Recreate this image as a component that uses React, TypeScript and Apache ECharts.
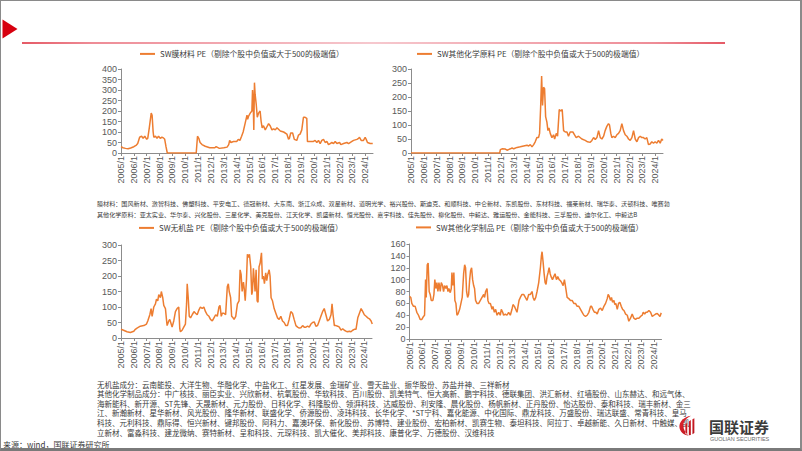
import React, { useEffect, useRef } from 'react';
import * as echarts from 'echarts';

// ---------- data ----------
const tickYears = [2005, 2006, 2007, 2008, 2009, 2010, 2011, 2012, 2013, 2014, 2015, 2016, 2017, 2018, 2019, 2020, 2021, 2022, 2023, 2024];

const seriesNames = [
  'SW膜材料 PE（剔除个股中负值或大于500的极端值）',
  'SW其他化学原料 PE（剔除个股中负值或大于500的极端值）',
  'SW无机盐 PE（剔除个股中负值或大于500的极端值）',
  'SW其他化学制品 PE（剔除个股中负值或大于500的极端值）',
];

const filmPE = [
  [2005.0, 30], [2005.15, 25], [2005.35, 22], [2005.55, 20], [2005.75, 24], [2006.0, 30], [2006.2, 38], [2006.3, 45],
  [2006.45, 75], [2006.6, 80], [2006.72, 70], [2006.85, 80], [2007.0, 65], [2007.08, 70], [2007.2, 120], [2007.35, 190],
  [2007.42, 180], [2007.5, 100], [2007.55, 75], [2007.68, 80], [2007.8, 70], [2007.92, 80], [2008.05, 70], [2008.18, 75],
  [2008.3, 72], [2008.4, 65], [2008.5, 30], [2008.6, 0], [2010.85, 0], [2010.95, 80], [2011.05, 70], [2011.15, 50],
  [2011.3, 40], [2011.55, 32], [2011.9, 25], [2012.3, 25], [2012.4, 30], [2012.65, 22], [2013.0, 25], [2013.25, 28],
  [2013.38, 40], [2013.45, 60], [2013.55, 50], [2013.75, 55], [2014.0, 55], [2014.12, 65], [2014.25, 60], [2014.38, 80],
  [2014.5, 100], [2014.65, 140], [2014.8, 180], [2014.85, 160], [2014.92, 175], [2015.05, 190], [2015.18, 200], [2015.23, 300],
  [2015.28, 250], [2015.33, 110], [2015.38, 335], [2015.43, 280], [2015.52, 230], [2015.6, 170], [2015.7, 190], [2015.82, 200],
  [2015.9, 150], [2015.98, 120], [2016.08, 130], [2016.22, 110], [2016.35, 125], [2016.48, 140], [2016.6, 130], [2016.74, 110],
  [2016.87, 115], [2017.0, 110], [2017.13, 120], [2017.39, 105], [2017.65, 100], [2017.9, 90], [2018.03, 65], [2018.1, 70],
  [2018.2, 95], [2018.35, 95], [2018.48, 65], [2018.67, 60], [2018.8, 85], [2018.93, 90], [2019.06, 110], [2019.19, 170],
  [2019.32, 170], [2019.45, 165], [2019.5, 55], [2019.71, 55], [2019.97, 55], [2020.1, 60], [2020.23, 50], [2020.36, 60],
  [2020.49, 45], [2020.62, 60], [2020.75, 65], [2020.88, 50], [2021.01, 55], [2021.14, 40], [2021.27, 45], [2021.4, 50],
  [2021.53, 45], [2021.66, 55], [2021.79, 45], [2022.0, 50], [2022.1, 40], [2022.31, 45], [2022.57, 50], [2022.7, 45],
  [2022.96, 55], [2023.09, 60], [2023.35, 65], [2023.48, 70], [2023.55, 75], [2023.68, 60], [2023.86, 60], [2023.99, 75],
  [2024.07, 65], [2024.17, 50], [2024.38, 45], [2024.58, 45],
];

const otherRawPE = [
  [2005.0, 0], [2011.9, 0], [2011.95, 12], [2012.08, 15], [2012.34, 14], [2012.47, 10], [2012.73, 15], [2012.86, 18],
  [2012.99, 15], [2013.25, 20], [2013.5, 22], [2013.76, 25], [2014.02, 28], [2014.15, 25], [2014.28, 30], [2014.41, 22],
  [2014.54, 30], [2014.66, 40], [2014.79, 55], [2014.92, 55], [2015.0, 70], [2015.08, 160], [2015.16, 275], [2015.23, 170],
  [2015.31, 235], [2015.39, 230], [2015.47, 130], [2015.57, 110], [2015.65, 80], [2015.73, 90], [2015.83, 70], [2015.96, 55],
  [2016.09, 65], [2016.17, 50], [2016.3, 70], [2016.4, 60], [2016.53, 155], [2016.66, 150], [2016.76, 155], [2016.87, 80],
  [2017.0, 75], [2017.13, 75], [2017.25, 60], [2017.38, 75], [2017.59, 75], [2017.72, 65], [2017.85, 55], [2018.03, 60],
  [2018.29, 50], [2018.55, 45], [2018.73, 40], [2018.94, 38], [2019.07, 45], [2019.2, 55], [2019.33, 48], [2019.46, 55],
  [2019.59, 80], [2019.72, 55], [2019.85, 50], [2019.98, 60], [2020.1, 80], [2020.23, 95], [2020.36, 105], [2020.44, 100],
  [2020.54, 70], [2020.62, 55], [2020.75, 60], [2020.88, 55], [2021.01, 65], [2021.14, 70], [2021.27, 80], [2021.4, 105],
  [2021.53, 80], [2021.66, 65], [2021.79, 60], [2021.92, 50], [2022.05, 45], [2022.18, 55], [2022.31, 80], [2022.44, 50],
  [2022.57, 40], [2022.7, 55], [2022.83, 60], [2022.95, 55], [2023.08, 55], [2023.21, 50], [2023.34, 55], [2023.47, 30],
  [2023.6, 32], [2023.73, 40], [2023.86, 35], [2023.99, 40], [2024.12, 35], [2024.25, 45], [2024.38, 35], [2024.5, 50],
  [2024.6, 45],
];

const inorganicPE = [
  [2005.0, 28], [2005.2, 25], [2005.47, 20], [2005.73, 18], [2006.0, 22], [2006.12, 28], [2006.25, 32], [2006.38, 35],
  [2006.51, 38], [2006.78, 40], [2006.99, 45], [2007.09, 55], [2007.25, 75], [2007.35, 95], [2007.43, 70], [2007.56, 100],
  [2007.69, 110], [2007.77, 125], [2007.87, 120], [2007.95, 140], [2008.08, 130], [2008.15, 150], [2008.26, 130], [2008.34, 105],
  [2008.47, 95], [2008.55, 60], [2008.6, 40], [2008.73, 55], [2008.81, 60], [2008.92, 45], [2008.99, 35], [2009.12, 55],
  [2009.25, 85], [2009.38, 95], [2009.51, 100], [2009.59, 30], [2009.64, 20], [2009.77, 25], [2009.9, 35], [2010.03, 45],
  [2010.12, 110], [2010.17, 175], [2010.25, 130], [2010.33, 70], [2010.43, 65], [2010.56, 75], [2010.7, 85], [2010.82, 80],
  [2010.95, 75], [2011.08, 90], [2011.2, 100], [2011.34, 95], [2011.47, 100], [2011.6, 85], [2011.73, 75], [2011.87, 70],
  [2011.99, 60], [2012.13, 55], [2012.26, 65], [2012.39, 75], [2012.52, 70], [2012.65, 100], [2012.73, 105], [2012.83, 70],
  [2012.91, 80], [2013.04, 80], [2013.17, 75], [2013.3, 165], [2013.38, 175], [2013.45, 150], [2013.56, 130], [2013.64, 70],
  [2013.75, 65], [2013.83, 60], [2013.96, 70], [2014.09, 110], [2014.22, 120], [2014.3, 220], [2014.38, 205], [2014.46, 150],
  [2014.56, 180], [2014.62, 160], [2014.7, 120], [2014.8, 190], [2014.87, 270], [2014.95, 260], [2015.03, 270], [2015.13, 230],
  [2015.21, 140], [2015.26, 150], [2015.34, 225], [2015.42, 180], [2015.47, 150], [2015.55, 220], [2015.63, 120], [2015.7, 115],
  [2015.78, 230], [2015.86, 240], [2015.97, 275], [2016.04, 190], [2016.12, 200], [2016.2, 175], [2016.3, 210], [2016.38, 185],
  [2016.46, 205], [2016.57, 220], [2016.64, 200], [2016.72, 130], [2016.83, 120], [2016.96, 95], [2017.09, 80], [2017.22, 65],
  [2017.35, 60], [2017.48, 70], [2017.61, 55], [2017.74, 50], [2017.87, 40], [2018.0, 40], [2018.13, 60], [2018.26, 85],
  [2018.39, 80], [2018.52, 60], [2018.66, 40], [2018.79, 35], [2018.92, 32], [2019.05, 33], [2019.18, 40], [2019.31, 35],
  [2019.44, 35], [2019.57, 38], [2019.7, 35], [2019.83, 45], [2019.96, 50], [2020.09, 52], [2020.22, 38], [2020.35, 40],
  [2020.48, 55], [2020.61, 70], [2020.74, 85], [2020.87, 95], [2021.0, 75], [2021.13, 55], [2021.27, 60], [2021.4, 75],
  [2021.48, 110], [2021.56, 75], [2021.66, 40], [2021.79, 40], [2021.92, 38], [2022.05, 35], [2022.18, 25], [2022.31, 30],
  [2022.44, 25], [2022.57, 22], [2022.7, 20], [2022.83, 22], [2022.96, 20], [2023.09, 25], [2023.22, 28], [2023.35, 28],
  [2023.49, 65], [2023.62, 80], [2023.75, 95], [2023.88, 85], [2024.0, 75], [2024.14, 70], [2024.27, 65], [2024.4, 62],
  [2024.53, 55], [2024.62, 45],
];

const otherProductsPE = [
  [2005.0, 72], [2005.1, 70], [2005.18, 60], [2005.31, 55], [2005.44, 55], [2005.57, 45], [2005.7, 40], [2005.83, 33],
  [2005.96, 33], [2006.09, 38], [2006.17, 40], [2006.25, 100], [2006.3, 70], [2006.38, 125], [2006.45, 128], [2006.53, 80],
  [2006.61, 75], [2006.69, 65], [2006.82, 65], [2006.9, 75], [2006.97, 100], [2007.05, 85], [2007.13, 95], [2007.21, 80],
  [2007.29, 95], [2007.39, 80], [2007.47, 95], [2007.57, 90], [2007.65, 80], [2007.73, 90], [2007.83, 85], [2007.91, 90],
  [2007.99, 80], [2008.06, 85], [2008.17, 78], [2008.25, 85], [2008.3, 112], [2008.38, 90], [2008.45, 112], [2008.53, 65],
  [2008.61, 60], [2008.69, 40], [2008.77, 42], [2008.9, 50], [2009.0, 60], [2009.1, 70], [2009.21, 110], [2009.29, 125],
  [2009.36, 120], [2009.44, 80], [2009.52, 70], [2009.6, 75], [2009.68, 100], [2009.75, 115], [2009.83, 120], [2009.91, 100],
  [2009.99, 90], [2010.06, 85], [2010.14, 65], [2010.25, 60], [2010.38, 60], [2010.51, 65], [2010.64, 70], [2010.77, 75],
  [2010.84, 70], [2010.92, 80], [2011.03, 85], [2011.1, 65], [2011.18, 60], [2011.29, 60], [2011.42, 50], [2011.49, 55],
  [2011.6, 45], [2011.7, 50], [2011.81, 40], [2011.94, 45], [2012.06, 40], [2012.14, 50], [2012.25, 45], [2012.32, 40],
  [2012.45, 42], [2012.58, 40], [2012.71, 45], [2012.84, 40], [2012.97, 50], [2013.05, 58], [2013.16, 55], [2013.26, 50],
  [2013.36, 45], [2013.44, 55], [2013.52, 65], [2013.62, 70], [2013.75, 75], [2013.88, 75], [2014.01, 70], [2014.14, 65],
  [2014.27, 75], [2014.4, 75], [2014.53, 80], [2014.61, 70], [2014.71, 65], [2014.82, 70], [2014.92, 80], [2015.05, 95],
  [2015.18, 120], [2015.26, 140], [2015.31, 147], [2015.39, 130], [2015.47, 110], [2015.55, 95], [2015.62, 92], [2015.7, 105],
  [2015.78, 112], [2015.86, 120], [2015.94, 110], [2016.01, 105], [2016.12, 100], [2016.22, 105], [2016.32, 110], [2016.43, 100],
  [2016.53, 105], [2016.64, 100], [2016.74, 98], [2016.84, 95], [2016.95, 90], [2017.05, 100], [2017.16, 85], [2017.26, 70],
  [2017.39, 68], [2017.52, 65], [2017.65, 65], [2017.78, 60], [2017.91, 60], [2018.04, 55], [2018.17, 55], [2018.3, 50],
  [2018.43, 45], [2018.56, 40], [2018.69, 38], [2018.82, 40], [2018.95, 45], [2019.08, 55], [2019.16, 55], [2019.26, 50],
  [2019.39, 45], [2019.49, 45], [2019.6, 42], [2019.73, 50], [2019.86, 52], [2019.99, 48], [2020.12, 55], [2020.25, 60],
  [2020.38, 68], [2020.45, 75], [2020.53, 72], [2020.64, 65], [2020.71, 70], [2020.79, 62], [2020.9, 65], [2020.97, 58],
  [2021.05, 60], [2021.16, 50], [2021.26, 60], [2021.36, 62], [2021.47, 55], [2021.57, 50], [2021.68, 48], [2021.81, 42],
  [2021.94, 40], [2022.06, 30], [2022.19, 35], [2022.32, 42], [2022.45, 35], [2022.58, 33], [2022.71, 35], [2022.84, 35],
  [2022.97, 38], [2023.1, 40], [2023.18, 45], [2023.29, 42], [2023.39, 45], [2023.49, 45], [2023.62, 48], [2023.75, 45],
  [2023.88, 38], [2024.01, 40], [2024.14, 42], [2024.27, 43], [2024.4, 40], [2024.48, 38], [2024.58, 44],
];

const yMax = [400, 300, 300, 160];
const yInterval = [50, 50, 50, 20];

const upperNotes = [
  '膜材料：国风新材、激智科技、佛塑科技、平安电工、德冠新材、大东南、浙江众成、双星新材、道明光学、裕兴股份、斯迪克、和顺科技、中仑新材、东凯股份、东材科技、福莱新材、瑞华泰、沃顿科技、唯赛勃',
  '其他化学原料：亚太实业、华尔泰、兴化股份、三星化学、美克股份、江天化学、凯盛新材、恒光股份、嘉宇科技、佳先股份、柳化股份、中毅达、雅运股份、金能科技、三孚股份、迪尔化工、中毅达B',
];

const lowerNotes = [
  '无机盐成分：云南能投、大洋生物、华融化学、中盐化工、红星发展、金瑞矿业、雪天盐业、振华股份、苏盐井神、三祥新材',
  '其他化学制品成分：中广核技、丽臣实业、兴欣新材、杭氧股份、华软科技、百川股份、凯美特气、恒大高新、鹏宇科技、德联集团、洪汇新材、红墙股份、山东赫达、和远气体、',
  '海新能科、新开源、ST先锋、天晟新材、元力股份、日科化学、科隆股份、领湃科技、达威股份、利安隆、晨化股份、杨帆新材、正丹股份、怡达股份、泰和科技、瑞丰新材、金三',
  '江、新瀚新材、星华新材、风光股份、隆华新材、联盛化学、侨源股份、凌玮科技、长华化学、*ST宁科、嘉化能源、中化国际、鼎龙科技、万盛股份、瑞达联盛、常青科技、皇马',
  '科技、元利科技、鼎际得、恒兴新材、键邦股份、阿科力、嘉澳环保、新化股份、苏博特、建业股份、宏柏新材、凯赛生物、泰坦科技、阿拉丁、卓越新能、久日新材、中触媒、凯',
  '立新材、富淼科技、建龙微纳、赛特新材、呈和科技、元琛科技、凯大催化、美邦科技、康普化学、万德股份、汉维科技',
];

const sourceNote = '来源：wind，国联证券研究所';

// ---------- layout ----------
const grids = [
  { left: 121, top: 69, width: 252, height: 84 },
  { left: 411, top: 69, width: 252, height: 84 },
  { left: 121, top: 245, width: 251, height: 93 },
  { left: 409.5, top: 244, width: 252, height: 95 },
];
const legendPos = [
  { left: 140, top: 50 },
  { left: 417, top: 50 },
  { left: 139, top: 224 },
  { left: 416, top: 223.5 },
];

const LINE_COLOR = '#ED7D31';
const AXIS_COLOR = '#8C8C8C';
const LABEL_COLOR = '#595959';
const NUM_FONT = '"Liberation Sans", Arial, "Noto Sans CJK SC", sans-serif';
const CJK_FONT = '"Noto Sans CJK SC", "Liberation Sans", sans-serif';

echarts.graphic.registerShape(
  'glLogo',
  echarts.graphic.extendPath(
    'M15 1 C6 2 0 9 0.5 15 C1 21 6 25.5 12 25.5 C8 22.5 5.5 18 5.5 13 C5.5 8 9 4 15 1 Z ' +
      'M8 11.5 L10.3 9.6 L10.3 24.6 L8 23.4 Z M12.3 8 L14.8 6.4 L14.8 25 L12.3 25.2 Z M16.8 5.2 L19.2 4.2 L19.2 22.6 L16.8 24.2 Z',
    {}
  ) as any
);

export default function App() {
  const ref = useRef<HTMLDivElement>(null);

  useEffect(() => {
    if (!ref.current) return;
    const chart = echarts.init(ref.current, undefined, { renderer: 'svg' });
    const datasets = [filmPE, otherRawPE, inorganicPE, otherProductsPE];

    const graphics: any[] = [
      {
        type: 'polygon',
        shape: { points: [[2.5, 19.5], [17.5, 29], [2.5, 38.5]] },
        style: { fill: '#D7000F' },
      },
      {
        type: 'rect',
        shape: { x: 22, y: 42, width: 703, height: 2 },
        style: {
          fill: {
            type: 'linear', x: 0, y: 0, x2: 1, y2: 0,
            colorStops: [
              { offset: 0, color: '#E55A66' },
              { offset: 0.1, color: '#EE8C96' },
              { offset: 0.5, color: '#F6C8CE' },
              { offset: 0.9, color: '#EE8C96' },
              { offset: 1, color: '#E55A66' },
            ],
          },
        },
      },
    ];
    upperNotes.forEach((t, i) => {
      graphics.push({
        type: 'text', x: 97, y: 203 + i * 11,
        style: { text: t, fill: '#3A3A3A', fontSize: 6.1, fontFamily: CJK_FONT, verticalAlign: 'middle' },
      });
    });
    lowerNotes.forEach((t, i) => {
      graphics.push({
        type: 'text', x: 97, y: 384 + i * 9.6,
        style: { text: t, fill: '#3A3A3A', fontSize: 7.5, fontFamily: CJK_FONT, verticalAlign: 'middle' },
      });
    });
    graphics.push({
      type: 'text', x: 3, y: 444,
      style: { text: sourceNote, fill: '#3A3A3A', fontSize: 8, fontFamily: CJK_FONT, verticalAlign: 'middle' },
    });
    // logo
    graphics.push({
      type: 'glLogo', x: 679, y: 415, scaleX: 0.8, scaleY: 0.8,
      style: {
        fill: {
          type: 'linear', x: 0, y: 0, x2: 1, y2: 1,
          colorStops: [{ offset: 0, color: '#E3262E' }, { offset: 1, color: '#B5121B' }],
        },
      },
    });
    graphics.push({
      type: 'text', x: 709, y: 426,
      style: { text: '国联证券', fill: '#3B3B3B', fontSize: 15, fontWeight: 'bold', fontFamily: CJK_FONT, verticalAlign: 'middle' },
    });
    graphics.push({
      type: 'text', x: 710, y: 438.5,
      style: { text: 'GUOLIAN SECURITIES', fill: '#6A6A6A', fontSize: 5.5, fontFamily: NUM_FONT, verticalAlign: 'middle' },
    });

    const option: any = {
      animation: false,
      backgroundColor: '#FFFFFF',
      grid: grids.map((g) => ({ ...g, containLabel: false, outerBoundsMode: 'none' })),
      legend: seriesNames.map((n, i) => ({
        data: [n],
        left: legendPos[i].left,
        top: legendPos[i].top,
        icon: 'rect',
        itemWidth: 15,
        itemHeight: 2,
        itemGap: 0,
        padding: 0,
        selectedMode: false,
        textStyle: { fontSize: 7.8, color: '#404040', fontFamily: CJK_FONT },
      })),
      xAxis: grids.map((_, i) => ({
        type: 'value',
        gridIndex: i,
        min: 2005,
        max: 2024.6,
        interval: 1,
        axisLine: { show: true, onZero: false, lineStyle: { color: AXIS_COLOR, width: 1 } },
        axisTick: { show: true, length: 3, lineStyle: { color: AXIS_COLOR }, customValues: tickYears },
        axisLabel: {
          rotate: 90,
          fontSize: 9,
          color: LABEL_COLOR,
          fontFamily: NUM_FONT,
          margin: 3,
          customValues: tickYears,
          formatter: (v: number) => (Number.isInteger(v) ? `${v}/1` : ''),
        },
        splitLine: { show: false },
      })),
      yAxis: grids.map((_, i) => ({
        type: 'value',
        gridIndex: i,
        min: 0,
        max: yMax[i],
        interval: yInterval[i],
        axisLine: { show: true, lineStyle: { color: AXIS_COLOR, width: 1 } },
        axisTick: { show: true, length: 3, lineStyle: { color: AXIS_COLOR } },
        axisLabel: { fontSize: 9, color: LABEL_COLOR, fontFamily: NUM_FONT, margin: 4 },
        splitLine: { show: false },
      })),
      series: datasets.map((d, i) => ({
        type: 'line',
        name: seriesNames[i],
        xAxisIndex: i,
        yAxisIndex: i,
        data: d,
        symbol: 'none',
        showSymbol: false,
        lineStyle: { color: LINE_COLOR, width: 1.5 },
        itemStyle: { color: LINE_COLOR },
        z: 3,
      })),
      graphic: graphics,
    };
    chart.setOption(option);
    return () => chart.dispose();
  }, []);

  return (
    <div style={{ position: 'absolute', left: 0, top: 0, width: 802, height: 451, background: '#fff' }}>
      <div ref={ref} style={{ position: 'absolute', left: 0, top: 0, width: 802, height: 451 }} />
      <div
        style={{
          position: 'absolute', left: 0, top: 0, width: 802, height: 451, boxSizing: 'border-box',
          borderTop: '1px solid #8A8A8A', borderLeft: '1px solid #8A8A8A', borderRight: '2px solid #8A8A8A',
          borderBottom: '3px solid #7A7A7A', pointerEvents: 'none',
        }}
      />
    </div>
  );
}
